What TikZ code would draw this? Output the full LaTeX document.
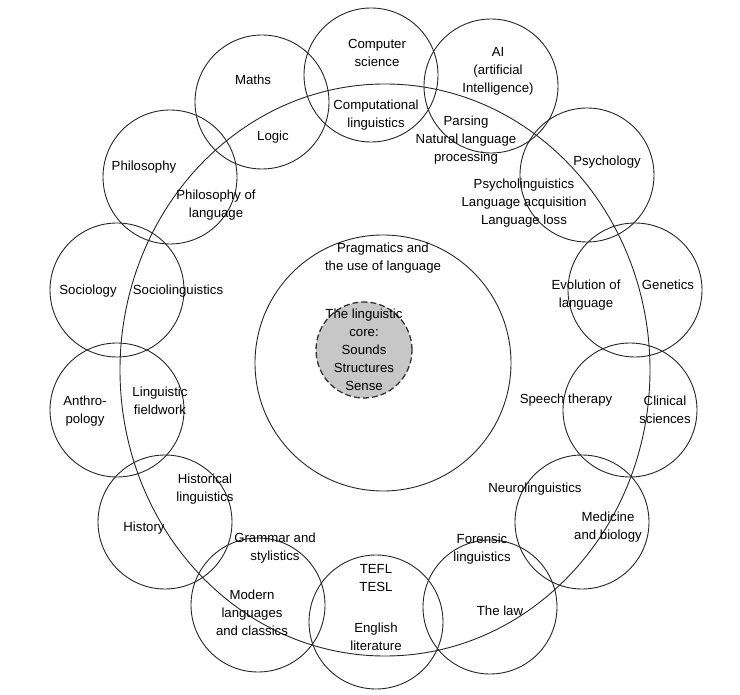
\documentclass[tikz,border=0pt]{standalone}
\usepackage{fontspec}
\setmainfont{Liberation Sans}
\usetikzlibrary{shapes.geometric}
\begin{document}
\begin{tikzpicture}[x=1pt,y=-1pt,
  ring/.style={draw=black!85,line width=0.9pt},
  lbl/.style={font=\fontsize{13.2}{18}\selectfont,align=center,inner sep=0pt}]
\useasboundingbox (0,0) rectangle (740,695);
% outer circles
\foreach \n/\x/\y in {cs/371/75,ma/262/102,ai/491/86,ps/587/175,ph/170/177,ge/635/290,so/117/290,cl/630/410,an/117/410,me/582/522,hi/165/522,la/490/607,mo/258/605,en/376/622}
  \node[ring,circle,minimum size=134pt,inner sep=0pt] (\n) at (\x,\y) {};
\node[ring,ellipse,minimum width=530pt,minimum height=572pt,inner sep=0pt] (big) at (385,370) {};
\node[ring,circle,minimum size=256pt,inner sep=0pt] (prag) at (383,363) {};
\node[draw=black!80,line width=1.3pt,circle,dash pattern=on 6pt off 3pt,fill=black!22,minimum size=96pt,inner sep=0pt] (core) at (364,350) {};
% labels
\node[lbl] (t1) at (377,53) {Computer\\science};
\node[lbl] (t2) at (253,80) {Maths};
\node[lbl] (t3) at (498,71) {AI\\(artificial\\Intelligence)};
\node[lbl] (t4) at (376,115) {Computational\\linguistics};
\node[lbl] (t5) at (273,137) {Logic};
\node[lbl] (t6) at (466,140) {Parsing\\Natural language\\processing};
\node[lbl] (t7) at (607,162) {Psychology};
\node[lbl] (t8) at (144,167) {Philosophy};
\node[lbl] (t9) at (216,205) {Philosophy of\\language};
\node[lbl] (t10) at (524,203) {Psycholinguistics\\Language acquisition\\Language loss};
\node[lbl] (t11) at (383,258) {Pragmatics and\\the use of language};
\node[lbl] (t12) at (586,295) {Evolution of\\language};
\node[lbl] (t13) at (668,285) {Genetics};
\node[lbl] (t14) at (88,291) {Sociology};
\node[lbl] (t15) at (178,291) {Sociolinguistics};
\node[lbl] (t16) at (364,350) {The linguistic\\core:\\Sounds\\Structures\\Sense};
\node[lbl] (t17) at (160,401) {Linguistic\\fieldwork};
\node[lbl] (t18) at (85,411) {Anthro-\\pology};
\node[lbl] (t19) at (566,400) {Speech therapy};
\node[lbl] (t20) at (665,410) {Clinical\\sciences};
\node[lbl] (t21) at (205,489) {Historical\\linguistics};
\node[lbl] (t22) at (535,489) {Neurolinguistics};
\node[lbl] (t23) at (608,527) {Medicine\\and biology};
\node[lbl] (t24) at (144,528) {History};
\node[lbl] (t25) at (275,548) {Grammar and\\stylistics};
\node[lbl] (t26) at (376,578) {TEFL\\TESL};
\node[lbl] (t27) at (482,549) {Forensic\\linguistics};
\node[lbl] (t28) at (252,613) {Modern\\languages\\and classics};
\node[lbl] (t29) at (500,611) {The law};
\node[lbl] (t30) at (376,637) {English\\literature};
\end{tikzpicture}
\end{document}
